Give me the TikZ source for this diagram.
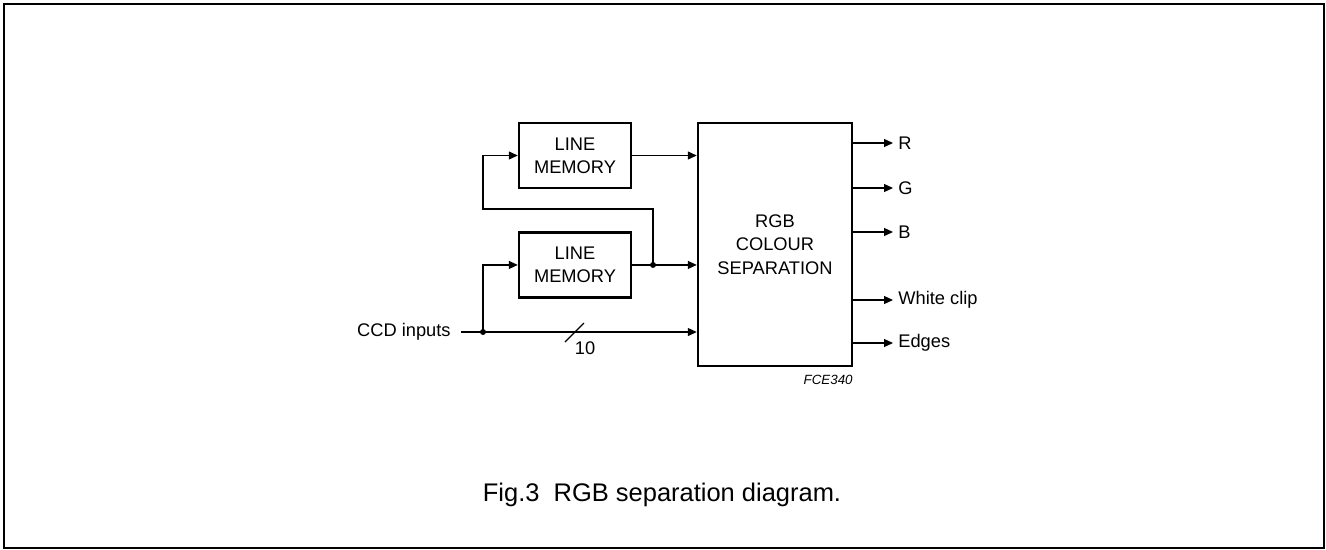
\documentclass[tikz,border=0pt]{standalone}
\usepackage{fontspec}
\setmainfont{Liberation Sans}
\usepackage{tikz}
\usetikzlibrary{arrows.meta,positioning,calc}
\tikzset{
    sig/.style={-{Triangle[length=0.18cm, width=0.16cm]}, line width=0.7pt},
    wire/.style={line width=0.7pt},
    membox/.style={draw, line width=1.4pt, minimum width=2.24cm, minimum height=1.3cm, align=center, font=\fontsize{10.4}{13.2}\selectfont},
    sepbox/.style={draw, line width=1.4pt, minimum width=3.08cm, minimum height=4.86cm, align=center, font=\fontsize{10.4}{13.4}\selectfont},
    lbl/.style={inner sep=0.1cm, font=\fontsize{10.4}{12.5}\selectfont},
    dot/.style={circle, fill, inner sep=0pt, minimum size=0.12cm}
}
\begin{document}
\begin{tikzpicture}[x=0.02cm, y=-0.02cm, node distance=0.84cm]
    \useasboundingbox (0,0) rectangle (1326,549);
    \draw[line width=1.2pt] (4,4) rectangle (1324,548);

    \node[sepbox] (rgb) at (775,244.5) {RGB\\COLOUR\\SEPARATION};
    \node[membox] (mem1) at (575,155.5) {LINE\\MEMORY};
    \node[membox, below=of mem1] (mem2) {LINE\\MEMORY};

    \coordinate (split) at (483,332);
    \coordinate (tap) at (653,0 |- mem2.east);
    \coordinate (loop) at (483,209);

    \node[lbl, inner xsep=0.2cm, anchor=east] (ccd) at (461,332) {CCD inputs};

    % memory outputs into the separation block
    \draw[sig] (mem1) -- (mem1 -| rgb.west);
    \draw[sig] (mem2) -- (mem2 -| rgb.west);

    % direct path, 10 bits wide
    \draw[wire] (ccd) -- (split);
    \draw[sig] (split) -- (split -| rgb.west);
    \draw[wire] (565,342) -- (584,323);
    \node[lbl, inner sep=0pt] (bits) at (585,348) {10};

    \draw[sig] (split) |- (mem2.west);
    \draw[sig] (tap) |- (loop) |- (mem1.west);
    \node[dot] (d1) at (split) {};
    \node[dot] (d2) at (tap) {};

    % outputs
    \foreach \y/\t [count=\i] in {143/R,188/G,232/B,300/White clip,343/Edges}{
        \coordinate (o\i) at (893,\y);
        \draw[sig] (o\i -| rgb.east) -- (o\i);
        \node[lbl, anchor=west] (out\i) at (o\i) {\t};
    }

    \node[inner sep=0pt, anchor=east, font=\fontsize{7.6}{9}\itshape] (code) at (853,380) {FCE340};
    \node[inner sep=0pt, font=\fontsize{14.5}{17}\selectfont] (cap) at (662,495) {Fig.3\ \ RGB separation diagram.};
\end{tikzpicture}
\end{document}
